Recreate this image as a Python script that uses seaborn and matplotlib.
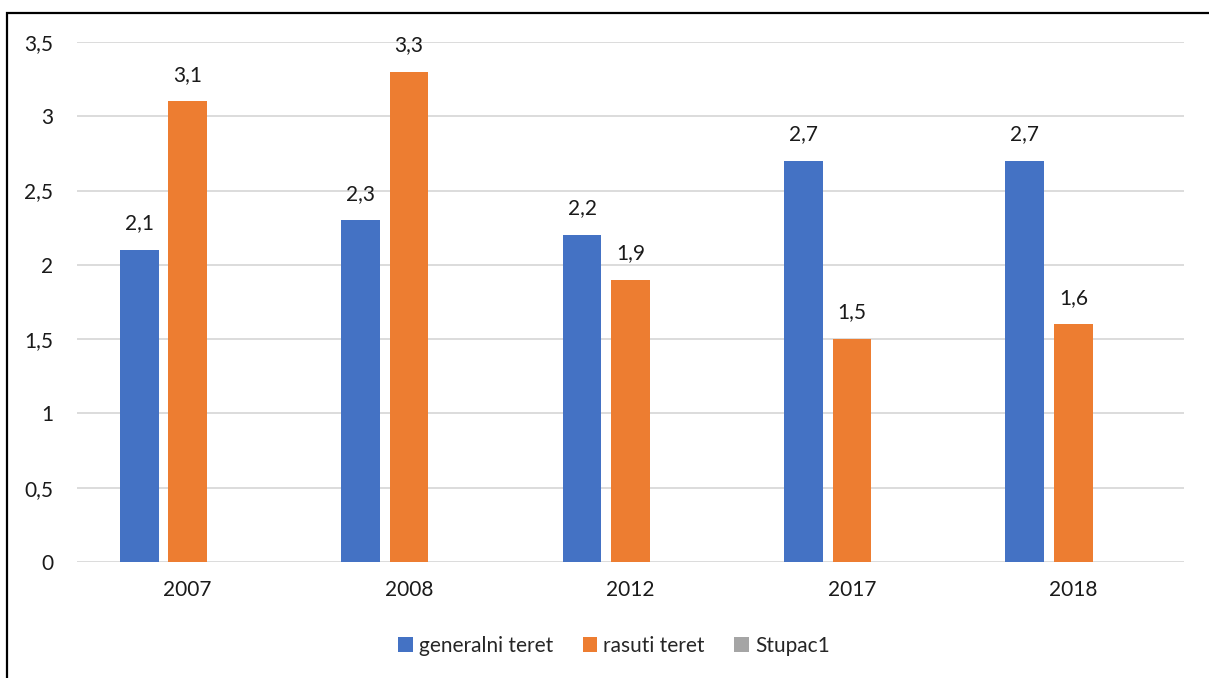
import pandas as pd
import seaborn as sns
import matplotlib.pyplot as plt
from matplotlib.patches import Rectangle
from matplotlib.ticker import FuncFormatter

years = ["2007", "2008", "2012", "2017", "2018"]
generalni = [2.1, 2.3, 2.2, 2.7, 2.7]
rasuti = [3.1, 3.3, 1.9, 1.5, 1.6]
stupac1 = [0, 0, 0, 0, 0]  # empty series, keeps its slot like in Excel
series = ["generalni teret", "rasuti teret", "Stupac1"]
colors = ["#4472C4", "#ED7D31", "#A5A5A5"]


def comma(v):
    s = f"{v:g}"
    return s.replace(".", ",")


df = pd.DataFrame({
    "year": years * 3,
    "value": generalni + rasuti + stupac1,
    "series": [series[0]] * 5 + [series[1]] * 5 + [series[2]] * 5,
})

sns.set_style("white")
plt.rcParams["font.family"] = ["Lato", "DejaVu Sans"]

fig = plt.figure(figsize=(12.09, 6.78), dpi=100)
ax = fig.add_axes([77 / 1209, 1 - 562 / 678, (1184 - 77) / 1209, (562 - 42) / 678])

sns.barplot(data=df, x="year", y="value", hue="series", hue_order=series,
            palette=colors, width=0.657, gap=0.2, linewidth=0, ax=ax,
            errorbar=None, saturation=1)

for cont in ax.containers[:2]:
    ax.bar_label(cont, labels=[comma(b.get_height()) for b in cont],
                 padding=12, fontsize=15, color="#1a1a1a")

ax.set_ylim(0, 3.5)
ax.set_yticks([0, 0.5, 1, 1.5, 2, 2.5, 3, 3.5])
ax.yaxis.set_major_formatter(FuncFormatter(lambda v, p: comma(v)))
ax.grid(axis="y", color="#D9D9D9", linewidth=1.3)
ax.set_axisbelow(True)
for s in ax.spines.values():
    s.set_visible(False)
ax.tick_params(axis="y", length=0, pad=17, labelsize=15, labelcolor="#1a1a1a")
ax.tick_params(axis="x", length=0, pad=13, labelsize=15, labelcolor="#1a1a1a")
ax.set_xlabel("")
ax.set_ylabel("")

sns.move_legend(ax, "center", bbox_to_anchor=(614 / 1209, 1 - 646 / 678),
                bbox_transform=fig.transFigure, ncol=3, frameon=False,
                title=None, fontsize=15, handlelength=0.7, handleheight=0.7,
                handletextpad=0.3, columnspacing=1.4)

# chart frame, cut off at the right and bottom like the screenshot
fig.patches.append(Rectangle((7 / 1209, -0.05), 1.2, 1 - 13 / 678 + 0.05,
                             transform=fig.transFigure, fill=False,
                             edgecolor="black", linewidth=1.6))

plt.savefig("out.png", dpi=100)
